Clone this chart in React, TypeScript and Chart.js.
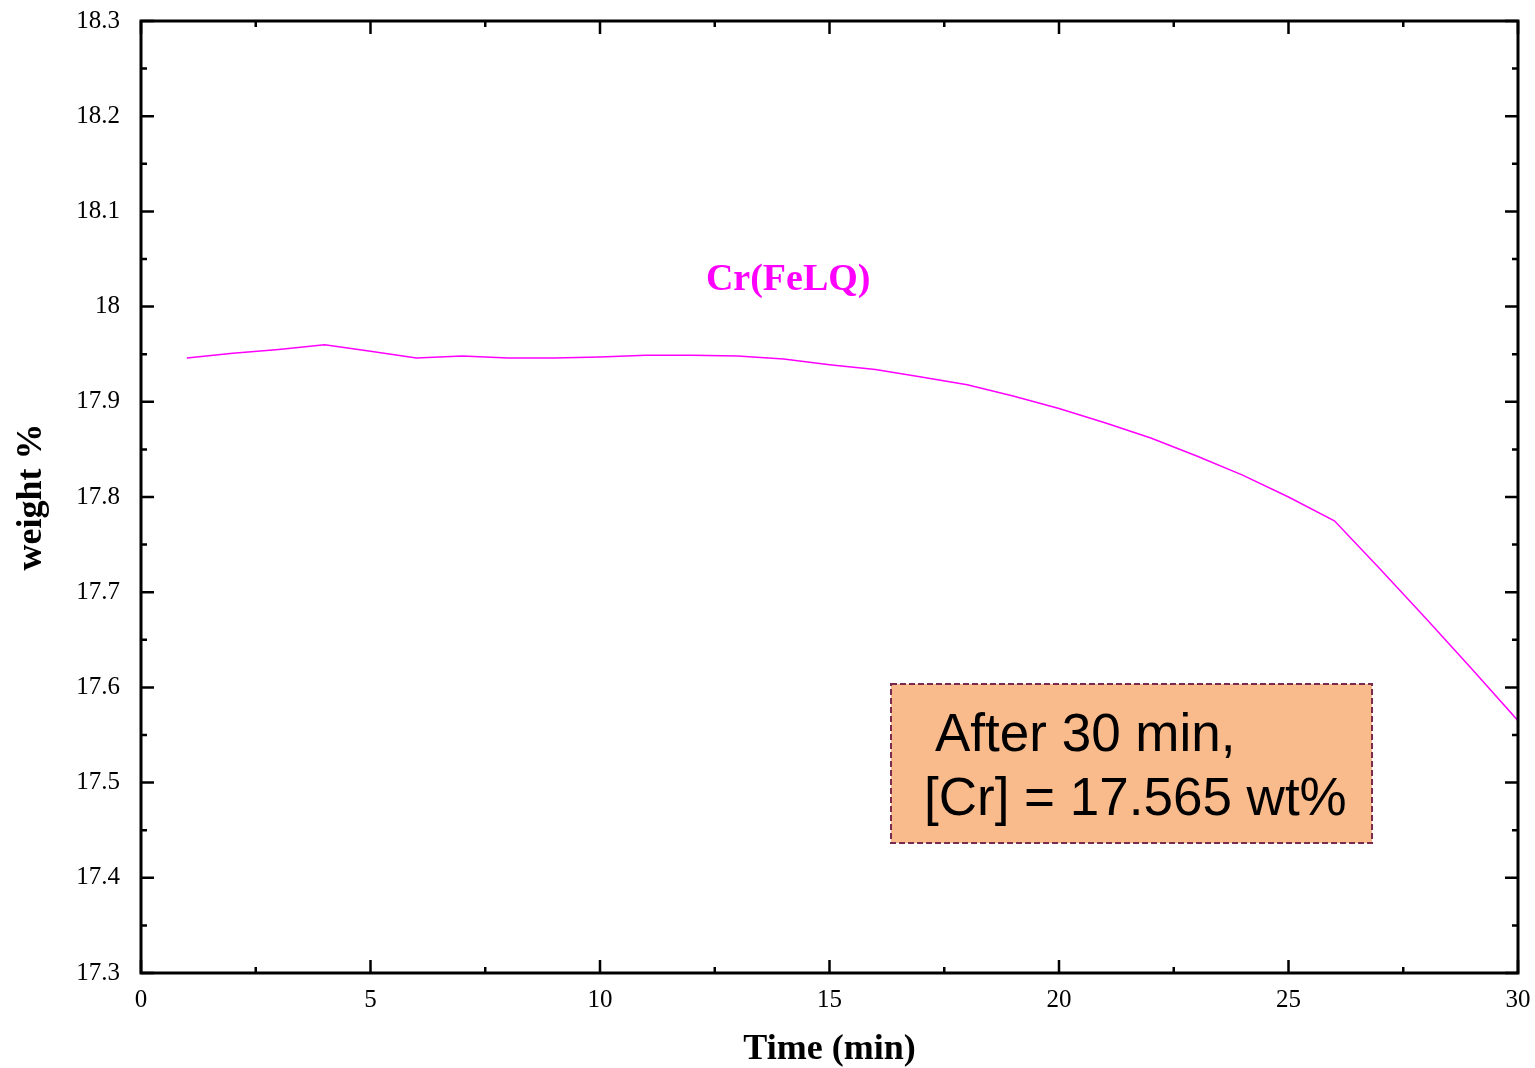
import React, { useEffect, useRef } from "react";
import { Chart, registerables } from "chart.js";

Chart.register(...registerables);

const timeMin = [1, 2, 3, 4, 5, 6, 7, 8, 9, 10, 11, 12, 13, 14, 15, 16, 17, 18, 19, 20, 21, 22, 23, 24, 25, 26, 27, 28, 29, 30];
const crWeight = [
  17.946, 17.951, 17.955, 17.960, 17.953, 17.946, 17.948, 17.946, 17.946, 17.947,
  17.949, 17.949, 17.948, 17.945, 17.939, 17.934, 17.926, 17.918, 17.906, 17.893,
  17.878, 17.862, 17.843, 17.823, 17.800, 17.775, 17.724, 17.672, 17.619, 17.565,
];
const xTicks = [0, 5, 10, 15, 20, 25, 30];
const yTicks = [17.3, 17.4, 17.5, 17.6, 17.7, 17.8, 17.9, 18.0, 18.1, 18.2, 18.3];
const seriesLabel = "Cr(FeLQ)";
const xTitle = "Time (min)";
const yTitle = "weight %";
const noteLines = ["After 30 min,", "[Cr] = 17.565 wt%"];

const SERIF = "'Liberation Serif', 'Times New Roman', serif";
const SANS = "'Liberation Sans', Arial, sans-serif";

const framePlugin = {
  id: "frameTicks",
  afterDatasetsDraw(chart: any) {
    const { ctx, chartArea } = chart;
    const { left, right, top, bottom } = chartArea;
    const xs = chart.scales.x;
    const ys = chart.scales.y;
    ctx.save();

    // annotation label for series
    ctx.fillStyle = "#FF00FF";
    ctx.font = `bold 38px ${SERIF}`;
    ctx.textAlign = "center";
    ctx.textBaseline = "alphabetic";
    ctx.fillText(seriesLabel, xs.getPixelForValue(14.1), ys.getPixelForValue(18.017));

    // note box
    const bx0 = xs.getPixelForValue(16.34);
    const bx1 = xs.getPixelForValue(26.82);
    const by0 = ys.getPixelForValue(17.6036);
    const by1 = ys.getPixelForValue(17.4366);
    ctx.fillStyle = "#F9BB8B";
    ctx.fillRect(bx0, by0, bx1 - bx0, by1 - by0);
    ctx.setLineDash([6, 3]);
    ctx.strokeStyle = "#7A2A4C";
    ctx.lineWidth = 2;
    ctx.strokeRect(bx0, by0, bx1 - bx0, by1 - by0);
    ctx.setLineDash([]);
    ctx.fillStyle = "#000000";
    ctx.font = `53px ${SANS}`;
    ctx.textAlign = "left";
    ctx.fillText(noteLines[0], bx0 + 44, by0 + 67);
    ctx.fillText(noteLines[1], bx0 + 33, by0 + 131);

    // frame
    ctx.strokeStyle = "#000000";
    ctx.lineWidth = 3;
    ctx.strokeRect(left, top, right - left, bottom - top);

    // ticks (inward, all four sides)
    ctx.lineWidth = 2.5;
    const major = 13;
    const minor = 6;
    ctx.beginPath();
    for (let i = 0; i < xTicks.length; i++) {
      const px = xs.getPixelForValue(xTicks[i]);
      ctx.moveTo(px, bottom); ctx.lineTo(px, bottom - major);
      ctx.moveTo(px, top); ctx.lineTo(px, top + major);
      if (i < xTicks.length - 1) {
        const pm = xs.getPixelForValue((xTicks[i] + xTicks[i + 1]) / 2);
        ctx.moveTo(pm, bottom); ctx.lineTo(pm, bottom - minor);
        ctx.moveTo(pm, top); ctx.lineTo(pm, top + minor);
      }
    }
    for (let i = 0; i < yTicks.length; i++) {
      const py = ys.getPixelForValue(yTicks[i]);
      ctx.moveTo(left, py); ctx.lineTo(left + major, py);
      ctx.moveTo(right, py); ctx.lineTo(right - major, py);
      if (i < yTicks.length - 1) {
        const pm = ys.getPixelForValue((yTicks[i] + yTicks[i + 1]) / 2);
        ctx.moveTo(left, pm); ctx.lineTo(left + minor, pm);
        ctx.moveTo(right, pm); ctx.lineTo(right - minor, pm);
      }
    }
    ctx.stroke();
    ctx.restore();
  },
};

export default function App() {
  const ref = useRef<HTMLCanvasElement | null>(null);
  useEffect(() => {
    if (!ref.current) return;
    const chart = new Chart(ref.current, {
      type: "line",
      data: {
        datasets: [
          {
            label: seriesLabel,
            data: timeMin.map((t, i) => ({ x: t, y: crWeight[i] })),
            borderColor: "#FF00FF",
            backgroundColor: "#FF00FF",
            borderWidth: 1.5,
            pointRadius: 0,
            tension: 0,
            fill: false,
          },
        ],
      },
      options: {
        animation: false,
        responsive: false,
        maintainAspectRatio: false,
        layout: { padding: { top: 21, right: 17, left: 0, bottom: 0 } },
        plugins: { legend: { display: false }, tooltip: { enabled: false } },
        scales: {
          x: {
            type: "linear",
            min: 0,
            max: 30,
            grid: { display: false, drawTicks: false },
            border: { display: false },
            afterBuildTicks: (s: any) => { s.ticks = xTicks.map((v) => ({ value: v })); },
            afterFit: (s: any) => {
              s.height = 95;
              s.paddingLeft = 0;
              s.paddingRight = 0;
              s.paddingTop = 0;
              s.paddingBottom = 0;
            },
            ticks: {
              color: "#000",
              padding: 12,
              maxRotation: 0,
              font: { family: SERIF, size: 25 },
              callback: (v: any) => String(v),
            },
            title: {
              display: true,
              text: xTitle,
              color: "#000",
              font: { family: SERIF, size: 36, weight: "bold", lineHeight: 1.0 },
              padding: { top: 0, bottom: 0 },
            },
          },
          y: {
            type: "linear",
            min: 17.3,
            max: 18.3,
            grid: { display: false, drawTicks: false },
            border: { display: false },
            afterBuildTicks: (s: any) => { s.ticks = yTicks.map((v) => ({ value: v })); },
            afterFit: (s: any) => {
              s.width = 141;
              s.paddingLeft = 0;
              s.paddingRight = 0;
              s.paddingTop = 0;
              s.paddingBottom = 0;
            },
            ticks: {
              color: "#000",
              padding: 21,
              font: { family: SERIF, size: 25 },
              callback: (v: any) => String(Number(Number(v).toFixed(1))),
            },
            title: {
              display: true,
              text: yTitle,
              color: "#000",
              font: { family: SERIF, size: 36, weight: "bold", lineHeight: 1.0 },
              padding: { top: 14, bottom: 0 },
            },
          },
        },
      },
      plugins: [framePlugin],
    } as any);
    return () => chart.destroy();
  }, []);
  return (
    <div style={{ position: "absolute", left: 0, top: 0, width: 1535, height: 1068, background: "#fff" }}>
      <canvas ref={ref} width={1535} height={1068} style={{ display: "block" }} />
    </div>
  );
}
